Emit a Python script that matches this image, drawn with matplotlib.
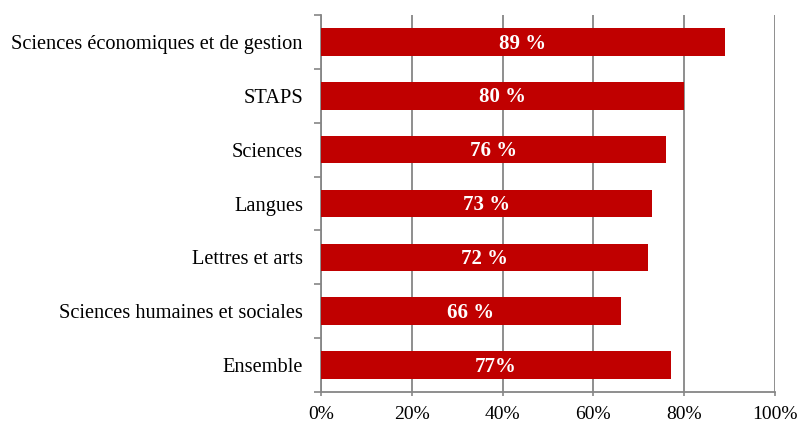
import matplotlib
matplotlib.use('Agg')
from matplotlib import pyplot as plt
from matplotlib.ticker import FixedLocator, PercentFormatter

plt.rcParams['font.family'] = ['Liberation Serif', 'DejaVu Serif']

categories = ['Sciences économiques et de gestion', 'STAPS', 'Sciences', 'Langues',
              'Lettres et arts', 'Sciences humaines et sociales', 'Ensemble']
values = [89, 80, 76, 73, 72, 66, 77]
labels = ['89 %', '80 %', '76 %', '73 %', '72 %', '66 %', '77%']

fig = plt.figure(figsize=(7.97, 4.25), dpi=100)
ax = fig.add_axes([0.4028, 0.0776, 0.5696, 0.8871])

n = len(categories)
pos = list(range(n))
ax.barh(pos, values, height=0.51, color='#C00000', zorder=3)
for p, v, lab in zip(pos, values, labels):
    ax.text(v / 2, p + 0.03, lab, ha='center', va='center', color='white',
            fontweight='bold', fontsize=15, zorder=4)

ax.set_xlim(0, 100)
ax.set_ylim(n - 0.5, -0.5)
ax.set_xticks(range(0, 101, 20))
ax.xaxis.set_major_formatter(PercentFormatter(decimals=0))
ax.set_yticks(pos)
ax.set_yticklabels(categories)
ax.yaxis.set_minor_locator(FixedLocator([i - 0.5 for i in range(n + 1)]))
ax.tick_params(axis='y', which='major', length=0, pad=13, labelsize=14.7)
ax.tick_params(axis='y', which='minor', length=5, width=1.2, color='#868686')
ax.tick_params(axis='x', length=3, width=1.2, color='#868686', labelsize=14, pad=7)

ax.grid(axis='x', color='#868686', linewidth=1.3, zorder=0)
for s in ['top', 'right']:
    ax.spines[s].set_visible(False)
for s in ['left', 'bottom']:
    ax.spines[s].set_color('#868686')
    ax.spines[s].set_linewidth(1.3)

fig.savefig('out.png', dpi=100)
